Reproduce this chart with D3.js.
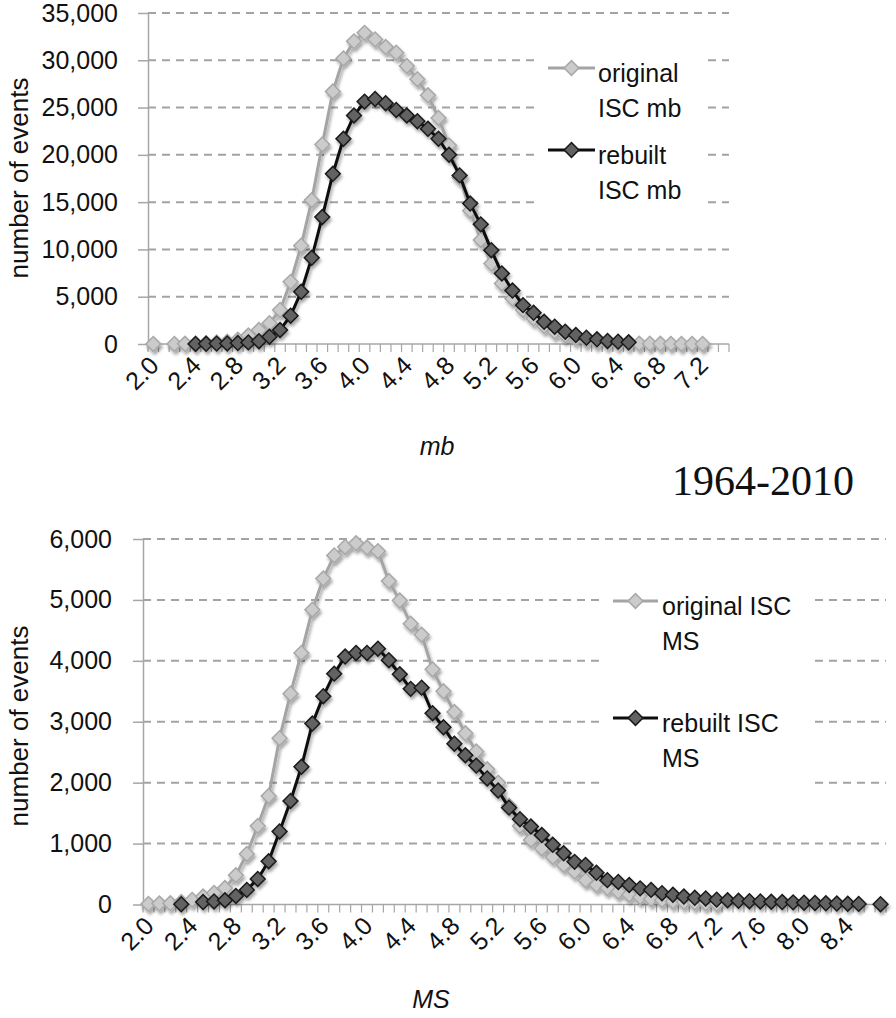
<!DOCTYPE html>
<html><head><meta charset="utf-8">
<script src="https://cdn.jsdelivr.net/npm/d3@7"></script>
<style>body{margin:0;background:#fff} svg{display:block}</style>
</head><body>
<svg id="c" width="896" height="1018"></svg>
<script>
// ---------- DATA ----------
const mbCategories = ["2.0","2.1","2.2","2.3","2.4","2.5","2.6","2.7","2.8","2.9","3.0","3.1","3.2","3.3","3.4","3.5","3.6","3.7","3.8","3.9","4.0","4.1","4.2","4.3","4.4","4.5","4.6","4.7","4.8","4.9","5.0","5.1","5.2","5.3","5.4","5.5","5.6","5.7","5.8","5.9","6.0","6.1","6.2","6.3","6.4","6.5","6.6","6.7","6.8","6.9","7.0","7.1","7.2","7.3","7.4"];
const mbOriginal = [5,null,10,20,40,80,150,250,450,900,1480,2200,3600,6570,10400,15200,21100,26700,30200,32000,32900,32200,31400,30800,29400,28000,26300,23900,21000,17600,14100,11000,8500,6400,4800,3600,2700,1900,1300,900,600,400,250,150,100,70,40,30,20,15,10,5,5,null,null];
const mbRebuilt = [null,null,null,null,10,20,40,60,100,170,300,770,1480,2990,5520,9110,13430,18000,21700,24160,25630,25910,25460,24750,24160,23560,22750,21700,20010,17830,14850,12650,9920,7460,5650,4110,3300,2350,1830,1300,950,670,500,320,250,180,null,null,null,null,null,null,null,null,null];
const mbYTicks = [0,5000,10000,15000,20000,25000,30000,35000];
const mbXLabels = ["2.0","2.4","2.8","3.2","3.6","4.0","4.4","4.8","5.2","5.6","6.0","6.4","6.8","7.2"];

const msCategories = ["2.0","2.1","2.2","2.3","2.4","2.5","2.6","2.7","2.8","2.9","3.0","3.1","3.2","3.3","3.4","3.5","3.6","3.7","3.8","3.9","4.0","4.1","4.2","4.3","4.4","4.5","4.6","4.7","4.8","4.9","5.0","5.1","5.2","5.3","5.4","5.5","5.6","5.7","5.8","5.9","6.0","6.1","6.2","6.3","6.4","6.5","6.6","6.7","6.8","6.9","7.0","7.1","7.2","7.3","7.4","7.5","7.6","7.7","7.8","7.9","8.0","8.1","8.2","8.3","8.4","8.5","8.6","8.7"];
const msOriginal = [10,15,20,40,75,130,190,270,480,830,1290,1780,2730,3460,4130,4840,5350,5730,5870,5930,5860,5800,5310,4990,4610,4430,3860,3500,3160,2810,2510,2220,2000,1620,1290,1060,920,780,650,540,400,320,270,210,160,120,90,70,50,40,30,20,10,null,null,null,null,null,null,null,null,null,null,null,null,null,null,null];
const msRebuilt = [null,null,null,5,null,40,50,70,140,240,420,710,1200,1700,2260,2970,3420,3790,4070,4130,4130,4200,4010,3780,3540,3560,3140,2910,2640,2450,2280,2070,1870,1590,1400,1280,1140,980,840,700,650,520,400,370,320,265,240,185,160,130,110,100,80,70,60,55,50,45,40,35,30,25,20,15,12,10,null,5];
const msYTicks = [0,1000,2000,3000,4000,5000,6000];
const msXLabels = ["2.0","2.4","2.8","3.2","3.6","4.0","4.4","4.8","5.2","5.6","6.0","6.4","6.8","7.2","7.6","8.0","8.4"];

const mbLegend = [["original","ISC mb"],["rebuilt","ISC mb"]];
const msLegend = [["original ISC","MS"],["rebuilt ISC","MS"]];
const yTitle = "number of events";
const periodLabel = "1964-2010";

// ---------- DRAW ----------
const svg = d3.select("#c");
const FONT = "'Liberation Sans', Arial, sans-serif";
const defs = svg.append("defs");
const f = defs.append("filter").attr("id","sh").attr("x","-20%").attr("y","-20%").attr("width","140%").attr("height","140%");
f.append("feDropShadow").attr("dx",1.5).attr("dy",3).attr("stdDeviation",1.8).attr("flood-color","#000").attr("flood-opacity",0.35);

const styles = [
  {line:"#a4a4a4", fill:"#cbcbcb", stroke:"#a8a8a8"},
  {line:"#0d0d0d", fill:"#626262", stroke:"#1a1a1a"}
];
const diamond = d3.symbol().type(d3.symbolSquare).size(110);

function drawPanel(p){
  const x = d3.scaleBand().domain(p.categories).range([p.x0, p.x1]).padding(0);
  const y = d3.scaleLinear().domain([0, p.yMax]).range([p.y0, p.yTop]);
  const bw = x.bandwidth();
  const g = svg.append("g");

  // gridlines
  g.append("g").selectAll("line").data(p.yTicks.filter(v => v > 0)).join("line")
    .attr("x1", p.x0).attr("x2", p.x1)
    .attr("y1", d => y(d)).attr("y2", d => y(d))
    .attr("stroke", "#a3a3a3").attr("stroke-width", 2).attr("stroke-dasharray", "8,6");

  // legend box (white background covering gridlines)
  g.append("rect").attr("x", p.legend.box[0]).attr("y", p.legend.box[1])
    .attr("width", p.legend.box[2]).attr("height", p.legend.box[3]).attr("fill", "#fff");

  // y axis
  const ya = g.append("g").attr("transform", `translate(${p.x0},0)`)
    .call(d3.axisLeft(y).tickValues(p.yTicks).tickFormat(d3.format(",")).tickSize(10).tickSizeOuter(0).tickPadding(p.yPad));
  ya.select(".domain").attr("stroke", "#a6a6a6").attr("stroke-width", 1.5);
  ya.selectAll(".tick line").attr("stroke", "#a6a6a6").attr("stroke-width", 1.5);
  ya.selectAll(".tick text").attr("font-family", FONT).attr("font-size", 25).attr("fill", "#111");

  // x axis line + boundary ticks
  g.append("line").attr("x1", p.x0).attr("x2", p.x1).attr("y1", p.y0).attr("y2", p.y0)
    .attr("stroke", "#a6a6a6").attr("stroke-width", 1.5);
  g.append("g").selectAll("line").data(p.categories.map(c => x(c)).concat([p.x1])).join("line")
    .attr("x1", d => d).attr("x2", d => d).attr("y1", p.y0).attr("y2", p.y0 + 8)
    .attr("stroke", "#a6a6a6").attr("stroke-width", 1.2);

  // x tick labels
  const xa = g.append("g").attr("transform", `translate(0,${p.y0})`)
    .call(d3.axisBottom(x).tickValues(p.xLabels).tickSize(0));
  xa.select(".domain").remove();
  xa.selectAll(".tick text").attr("font-family", FONT).attr("font-size", 25).attr("fill", "#111")
    .attr("text-anchor", "end").attr("x", 0).attr("y", 0).attr("dy", null)
    .attr("transform", `translate(${p.lblDx},${p.lblDy}) rotate(-45)`);

  // axis titles
  g.append("text").attr("transform", `translate(${p.yTitle[0]},${p.yTitle[1]}) rotate(-90)`)
    .attr("text-anchor", "middle").attr("font-family", FONT).attr("font-size", 26).attr("fill", "#111").text(yTitle);
  g.append("text").attr("x", p.xTitle[0]).attr("y", p.xTitle[1]).attr("text-anchor", "middle")
    .attr("font-family", FONT).attr("font-style", "italic").attr("font-size", 25).attr("fill", "#111").text(p.xTitleText);

  // series
  const sg = g.append("g").attr("filter", "url(#sh)");
  p.series.forEach((vals, si) => {
    const st = styles[si];
    const line = d3.line().defined(d => d != null).x((d, i) => x(p.categories[i]) + bw / 2).y(d => y(d));
    sg.append("path").datum(vals).attr("d", line).attr("fill", "none")
      .attr("stroke", st.line).attr("stroke-width", 3).attr("stroke-linejoin", "round");
    sg.append("g").selectAll("path").data(vals.map((v, i) => ({v, i})).filter(d => d.v != null)).join("path")
      .attr("d", diamond)
      .attr("transform", d => `translate(${x(p.categories[d.i]) + bw / 2},${y(d.v)}) rotate(45)`)
      .attr("fill", st.fill).attr("stroke", st.stroke).attr("stroke-width", 1.5);
  });

  // legend items
  p.legend.items.forEach((lines, li) => {
    const st = styles[li];
    const ly = p.legend.lineY[li];
    const lg = g.append("g");
    lg.append("line").attr("x1", p.legend.lx[0]).attr("x2", p.legend.lx[1]).attr("y1", ly).attr("y2", ly)
      .attr("stroke", st.line).attr("stroke-width", 3);
    lg.append("path").attr("d", diamond).attr("transform", `translate(${(p.legend.lx[0] + p.legend.lx[1]) / 2},${ly}) rotate(45)`)
      .attr("fill", st.fill).attr("stroke", st.stroke).attr("stroke-width", 1.5);
    lines.forEach((t, k) => {
      lg.append("text").attr("x", p.legend.tx).attr("y", ly + 14 + k * 35)
        .attr("font-family", FONT).attr("font-size", 25).attr("fill", "#111").text(t);
    });
  });
}

drawPanel({
  categories: mbCategories, series: [mbOriginal, mbRebuilt],
  x0: 148, x1: 729, y0: 344, yTop: 13, yMax: 35000, yTicks: mbYTicks, yPad: 20,
  xLabels: mbXLabels, lblDx: 7, lblDy: 23,
  yTitle: [28, 178], xTitle: [437, 455], xTitleText: "mb",
  legend: {box: [535, 40, 167, 172], lx: [548, 595], tx: 598, lineY: [68, 150], items: mbLegend}
});

drawPanel({
  categories: msCategories, series: [msOriginal, msRebuilt],
  x0: 143, x1: 886, y0: 904.5, yTop: 539, yMax: 6000, yTicks: msYTicks, yPad: 21,
  xLabels: msXLabels, lblDx: 7, lblDy: 23,
  yTitle: [28, 726], xTitle: [431, 1008], xTitleText: "MS",
  legend: {box: [602, 560, 208, 240], lx: [613, 658], tx: 662, lineY: [601, 718], items: msLegend}
});

svg.append("text").attr("x", 672).attr("y", 495).attr("font-family", "'Liberation Serif', 'Times New Roman', serif")
  .attr("font-size", 42).attr("fill", "#111").text(periodLabel);
</script>
</body></html>
